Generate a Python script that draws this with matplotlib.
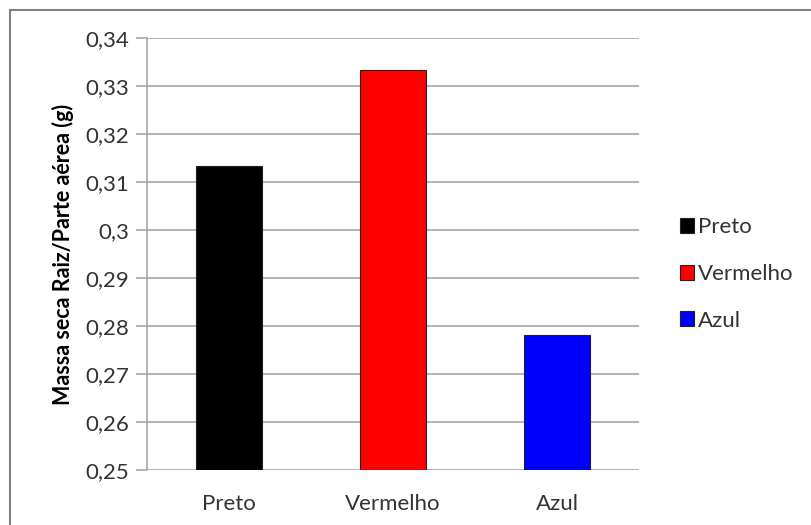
import matplotlib.pyplot as plt
from matplotlib.patches import Rectangle
from matplotlib.ticker import FuncFormatter

# Dados
categorias = ['Preto', 'Vermelho', 'Azul']
valores = [0.3133, 0.3333, 0.2781]
cores = ['#000000', '#ff0000', '#0000ff']
yticks = [0.25, 0.26, 0.27, 0.28, 0.29, 0.30, 0.31, 0.32, 0.33, 0.34]

plt.rcParams['font.family'] = ['Lato', 'DejaVu Sans']

fig = plt.figure(figsize=(8.12, 5.25), dpi=100)
ax = fig.add_axes([147 / 812, 1 - 470 / 525, (639 - 147) / 812, (470 - 38) / 525])

# borda externa (cinza, so topo e esquerda visiveis)
fig.patches.append(Rectangle((10 / 812, -0.05), 1.1, 1 - 10 / 525 + 0.05,
                             transform=fig.transFigure, fill=False,
                             edgecolor='#7f7f7f', linewidth=1.5))

x = range(len(categorias))
for i in x:
    ax.bar(i, valores[i] - 0.25, bottom=0.25, width=0.4, color=cores[i],
           edgecolor='#222222', linewidth=0.8, label=categorias[i], zorder=3)

ax.set_xlim(-0.5, 2.5)
ax.set_ylim(0.25, 0.34)
ax.set_yticks(yticks)
ax.yaxis.set_major_formatter(FuncFormatter(
    lambda v, p: ('%.2f' % v).rstrip('0').replace('.', ',') if abs(v - 0.30) > 1e-9 else '0,3'))
ax.set_xticks(list(x))
ax.set_xticklabels(categorias)

ax.grid(axis='y', color='#a6a6a6', linewidth=1.2, zorder=0)
for s in ['top', 'right', 'bottom']:
    ax.spines[s].set_visible(False)
ax.spines['left'].set_color('#a6a6a6')
ax.spines['left'].set_linewidth(1.2)
ax.tick_params(axis='y', length=8, color='#a6a6a6', width=1.2, labelsize=16,
               labelcolor='#333333', pad=5)
ax.tick_params(axis='x', length=0, labelsize=16, labelcolor='#333333', pad=17)

ax.set_ylabel('Massa seca Raiz/Parte aérea (g)', fontsize=15.5, fontweight='bold',
              labelpad=8)

ax.legend(loc='center left', bbox_to_anchor=((660 - 147) / (639 - 147), (470 - 274) / 432),
          frameon=False, fontsize=16, handlelength=0.65, handleheight=0.65,
          handletextpad=0.15, labelspacing=1.2, labelcolor='#333333')

plt.savefig('out.png', dpi=100)
